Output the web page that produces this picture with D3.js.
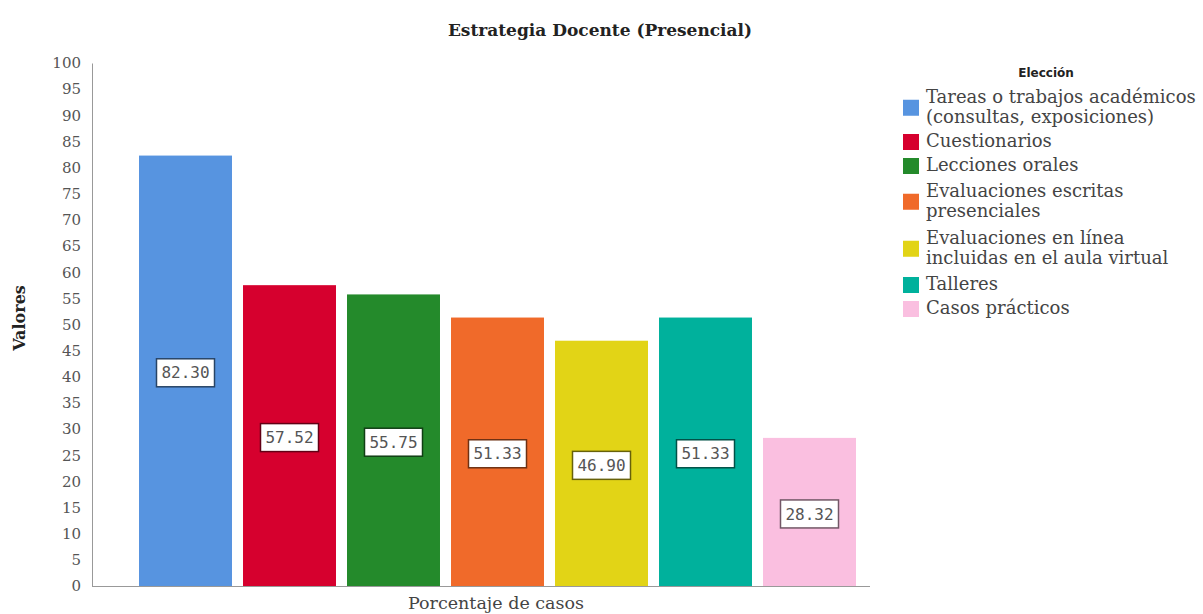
<!DOCTYPE html>
<html>
<head>
<meta charset="utf-8">
<script src="https://cdn.jsdelivr.net/npm/d3@7"></script>
<style>
  body { margin: 0; background: #fff; }
  svg { display: block; }
</style>
</head>
<body>
<div id="graph"></div>
<script>
const categorias = ['Tareas o trabajos académicos (consultas, exposiciones)', 'Cuestionarios', 'Lecciones orales',
  'Evaluaciones escritas presenciales', 'Evaluaciones en línea incluidas en el aula virtual', 'Talleres', 'Casos prácticos'];
const valores = [82.30, 57.52, 55.75, 51.33, 46.90, 51.33, 28.32];
const colores = ['#5794e0', '#d6002e', '#248a2b', '#f06a2a', '#e2d416', '#00b19c', '#fabfe0'];
const leyenda = [
  ['Tareas o trabajos académicos', '(consultas, exposiciones)'],
  ['Cuestionarios'],
  ['Lecciones orales'],
  ['Evaluaciones escritas', 'presenciales'],
  ['Evaluaciones en línea', 'incluidas en el aula virtual'],
  ['Talleres'],
  ['Casos prácticos']
];
const yTicks = d3.range(0, 101, 5);

const w = 1203, h = 614;
const serif = "'DejaVu Serif', serif";

const svg = d3.select('#graph').append('svg').attr('width', w).attr('height', h);

const yScale = d3.scaleLinear().domain([0, 100]).range([586, 63]);
const xScale = d3.scaleBand().domain(categorias).range([133.5, 861.5])
      .paddingInner(0.106).paddingOuter(0.053);

// title
svg.append('text').attr('x', 600).attr('y', 36).attr('text-anchor', 'middle')
  .style('font-family', serif).style('font-weight', 'bold').style('font-size', '17px').attr('fill', '#222')
  .text('Estrategia Docente (Presencial)');

// y axis
const yAxis = d3.axisLeft(yScale).tickValues(yTicks).tickSize(0).tickPadding(11);
const gy = svg.append('g').attr('transform', 'translate(92,0)').call(yAxis);
gy.select('.domain').attr('stroke', '#999');
gy.selectAll('text').style('font-family', serif).style('font-size', '15px').attr('fill', '#555');

// x axis line
const gx = svg.append('g').attr('transform', 'translate(0,586)')
  .call(d3.axisBottom(xScale).tickSize(0).tickFormat(''));
gx.select('.domain').attr('d', 'M92,0.5H870').attr('stroke', '#999');

// bars
svg.selectAll('rect.bar').data(valores).enter().append('rect').attr('class', 'bar')
  .attr('x', (d, i) => xScale(categorias[i]))
  .attr('y', d => yScale(d))
  .attr('width', xScale.bandwidth())
  .attr('height', d => yScale(0) - yScale(d))
  .attr('fill', (d, i) => colores[i]);

// value labels
const lab = svg.selectAll('g.lab').data(valores).enter().append('g').attr('class', 'lab')
  .attr('transform', (d, i) => 'translate(' + (xScale(categorias[i]) + xScale.bandwidth() / 2) + ',' + (yScale(d / 2) + 2) + ')');
lab.append('rect').attr('x', -29).attr('y', -14).attr('width', 58).attr('height', 28)
  .attr('fill', '#fff').attr('stroke', (d, i) => d3.color(colores[i]).darker(2.2)).attr('stroke-width', 1.5);
lab.append('text').attr('text-anchor', 'middle').attr('dy', '0.35em')
  .style('font-family', "'DejaVu Sans Mono', monospace").style('font-size', '16px').attr('fill', '#555')
  .text(d => d.toFixed(2));

// axis titles
svg.append('text').attr('transform', 'translate(25,318) rotate(-90)').attr('text-anchor', 'middle')
  .style('font-family', serif).style('font-weight', 'bold').style('font-size', '16px').attr('fill', '#222')
  .text('Valores');
svg.append('text').attr('x', 496).attr('y', 609).attr('text-anchor', 'middle')
  .style('font-family', serif).style('font-size', '17.5px').attr('fill', '#444')
  .text('Porcentaje de casos');

// legend
const lg = svg.append('g');
lg.append('text').attr('x', 1046).attr('y', 77).attr('text-anchor', 'middle')
  .style('font-family', "'DejaVu Sans', sans-serif").style('font-weight', 'bold').style('font-size', '12px').attr('fill', '#222')
  .text('Elección');
const itemY = [98, 142, 166, 192, 239, 285, 309];
leyenda.forEach((lines, i) => {
  const y0 = itemY[i];
  const mid = y0 + (lines.length - 1) * 19.5 / 2;
  lg.append('rect').attr('x', 903).attr('y', mid - 8).attr('width', 16).attr('height', 16).attr('fill', colores[i]);
  const t = lg.append('text').attr('x', 926).attr('y', y0 + 5)
    .style('font-family', serif).style('font-size', '18px').attr('fill', '#444')
    .attr('textLength', null);
  lines.forEach((l, j) => t.append('tspan').attr('x', 926).attr('dy', j === 0 ? 0 : 19.5).text(l));
});
</script>
</body>
</html>
